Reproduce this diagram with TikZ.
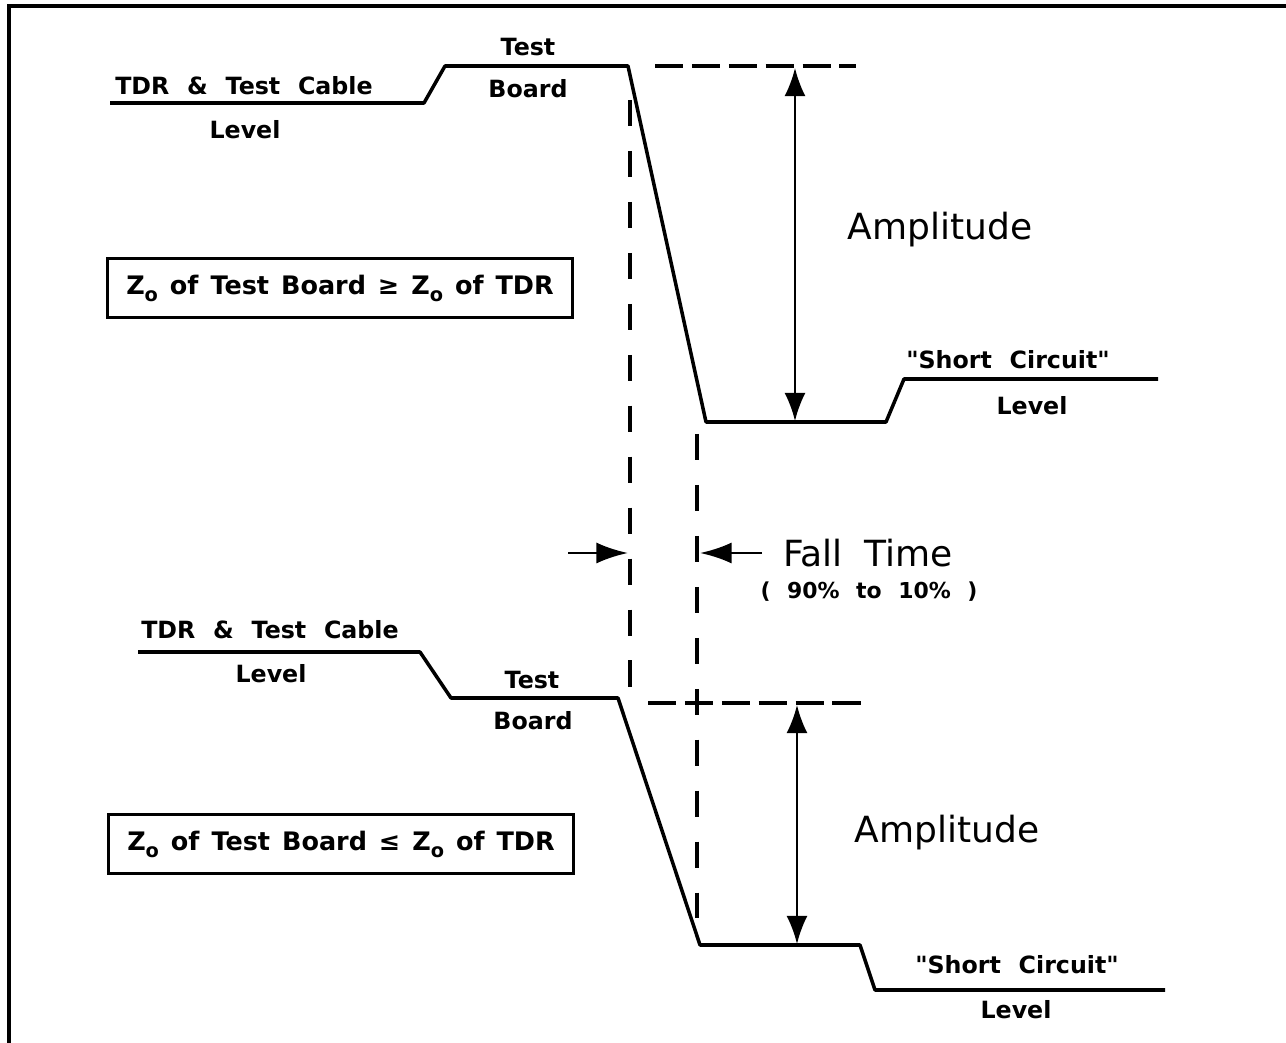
\documentclass[tikz,border=0pt]{standalone}
\usepackage{fontspec}
\setmainfont{DejaVu Sans}[Ligatures=TeXOff]
\usetikzlibrary{arrows.meta,positioning}
\newcommand{\Zsub}{Z\raisebox{-0.5ex}{\fontsize{11}{11}\selectfont o}}
\newcommand{\qt}{\symbol{34}}
\newcommand{\lblfont}{\bfseries\fontsize{13.5}{15}\selectfont\spaceskip=0.75em\relax}
\newcommand{\bigfont}{\fontsize{20.5}{24}\selectfont\spaceskip=0.6em\relax}
\newcommand{\smallfont}{\bfseries\fontsize{12.5}{14}\selectfont\spaceskip=0.75em\relax}
\newcommand{\condfont}{\bfseries\fontsize{14.5}{16}\selectfont\spaceskip=0.47em\relax}
\tikzset{
    %Define standard arrow tip
    >={Latex[length=16pt,width=12pt]},
    %Define styles for texts
    lbl/.style={
           font=\lblfont,
           inner sep=0pt},
    biglbl/.style={
           font=\bigfont,
           inner sep=0pt},
    smalllbl/.style={
           font=\smallfont,
           inner sep=0pt},
    %Define style for boxes
    cond/.style={
           rectangle,
           draw=black, line width=2pt,
           minimum width=9.3cm,
           minimum height=1.18cm,
           font=\condfont,
           text centered},
    % Define line styles
    trace/.style={
           line width=2pt,
           line join=round},
    hdash/.style={
           line width=2pt,
           dash pattern=on 16pt off 5pt},
    vdash/.style={
           line width=1.9pt,
           dash pattern=on 15pt off 14pt},
    % Define arrow styles
    amparr/.style={
           <->,
           line width=1.3pt},
    fallarr/.style={
           ->,
           line width=1.6pt,
           >={Latex[length=18pt,width=12pt]}}
}
\begin{document}
\begin{tikzpicture}[x=0.02cm, y=-0.02cm]
    \useasboundingbox (0,0) rectangle (1286,1043);
    % FRAME
    \draw[line width=2pt] (9,1043) -- (9,6) -- (1286,6);

    % UPPER TRACE
    \coordinate (uA) at (110,103);
    \coordinate (uB) at (424,103);
    \coordinate (uC) at (445,66);
    \coordinate (uD) at (628,66);
    \coordinate (uE) at (706,422);
    \coordinate (uF) at (886,422);
    \coordinate (uG) at (904,379);
    \coordinate (uH) at (1158,379);
    \draw[trace] (uA) -- (uB) -- (uC) -- (uD) -- (uE) -- (uF) -- (uG) -- (uH);

    \node[lbl] at (244,86) (ucable) {TDR \& Test Cable};
    \node[lbl] at (245,130) (ulevel) {Level};
    \node[lbl] at (528,47) (utest) {Test};
    \node[lbl] at (528,89) (uboard) {Board};
    \node[lbl] at (1008,360) (ushort) {\qt Short Circuit\qt};
    \node[lbl] at (1032,406) (uslevel) {Level};
    \node[cond] at (340,288) (ubox) {\Zsub\ of Test Board ≥ \Zsub\ of TDR};

    % upper amplitude
    \coordinate (uhd1) at (655,66);
    \coordinate (uhd2) at (856,66);
    \draw[hdash] (uhd1) -- (uhd2);
    \coordinate (uamp1) at (795,68);
    \coordinate (uamp2) at (795,421);
    \draw[amparr] (uamp1) -- (uamp2);
    \node[biglbl] at (940,230) (uampl) {Amplitude};

    % FALL TIME
    \coordinate (fl1) at (630,100);
    \coordinate (fl2) at (630,690);
    \coordinate (fr1) at (697,434);
    \coordinate (fr2) at (697,918);
    \draw[vdash] (fl1) -- (fl2);
    \draw[vdash] (fr1) -- (fr2);
    \coordinate (fa1) at (568,553);
    \coordinate (fa2) at (628,553);
    \coordinate (fb1) at (762,553);
    \coordinate (fb2) at (700,553);
    \draw[fallarr] (fa1) -- (fa2);
    \draw[fallarr] (fb1) -- (fb2);
    \node[biglbl] at (868,553) (fall) {Fall Time};
    \node[smalllbl] at (869,592) (pct) {( 90\% to 10\% )};

    % LOWER TRACE
    \coordinate (lA) at (138,652);
    \coordinate (lB) at (420,652);
    \coordinate (lC) at (451,698);
    \coordinate (lD) at (618,698);
    \coordinate (lE) at (700,945);
    \coordinate (lF) at (860,945);
    \coordinate (lG) at (875,990);
    \coordinate (lH) at (1165,990);
    \draw[trace] (lA) -- (lB) -- (lC) -- (lD) -- (lE) -- (lF) -- (lG) -- (lH);

    \node[lbl] at (270,630) (lcable) {TDR \& Test Cable};
    \node[lbl] at (271,674) (llevel) {Level};
    \node[lbl] at (532,680) (ltest) {Test};
    \node[lbl] at (533,721) (lboard) {Board};
    \node[lbl] at (1017,965) (lshort) {\qt Short Circuit\qt};
    \node[lbl] at (1016,1010) (lslevel) {Level};
    \node[cond] at (341,844) (lbox) {\Zsub\ of Test Board ≤ \Zsub\ of TDR};

    % lower amplitude
    \coordinate (lhd1) at (648,703);
    \coordinate (lhd2) at (862,703);
    \draw[hdash] (lhd1) -- (lhd2);
    \coordinate (lamp1) at (797,705);
    \coordinate (lamp2) at (797,944);
    \draw[amparr] (lamp1) -- (lamp2);
    \node[biglbl] at (947,833) (lampl) {Amplitude};
\end{tikzpicture}
\end{document}
